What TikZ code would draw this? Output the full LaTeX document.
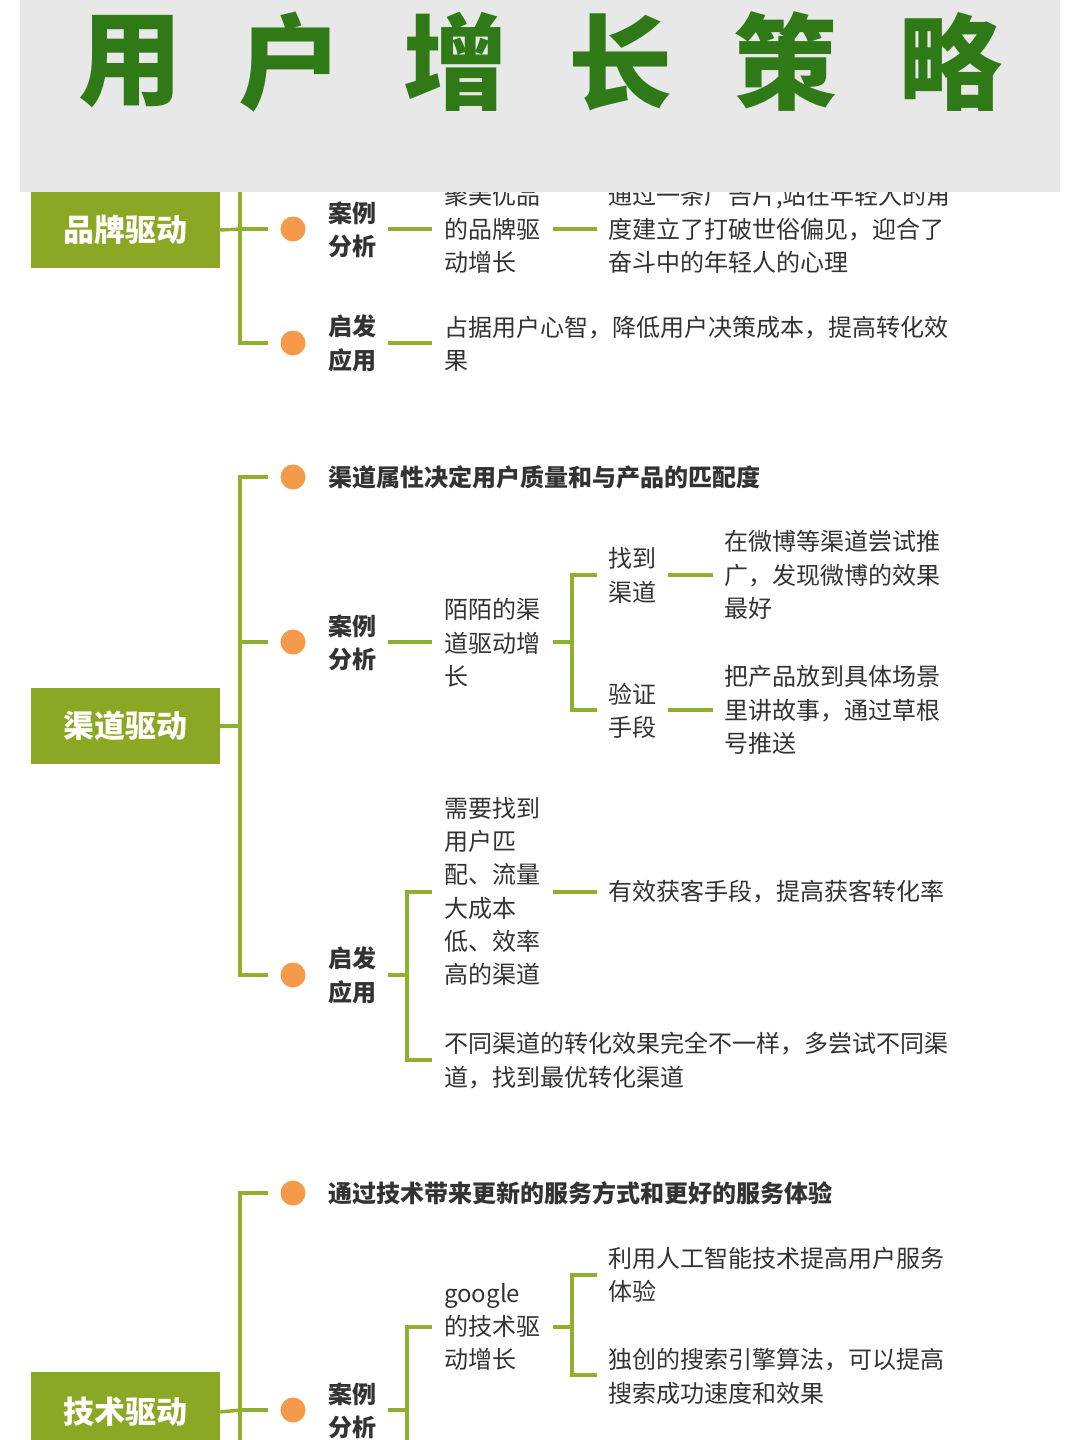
\documentclass[tikz,border=0pt]{standalone}
\usepackage{fontspec}
\setmainfont{Noto Sans CJK SC}
\begin{document}
\begin{tikzpicture}[x=1pt,y=-1pt,
  ln/.style={draw=lgreen,line width=3.4pt},
  dot/.style={circle,fill=dorange,minimum size=25pt,inner sep=0pt},
  box/.style={fill=bgreen,text=white,font=\fontsize{31}{31}\selectfont\bfseries,minimum width=189pt,minimum height=76pt,inner sep=0pt},
  lab/.style={anchor=west,inner sep=0pt,align=left,text=tgray,font=\fontsize{24}{33.3}\selectfont\bfseries},
  txt/.style={anchor=west,inner sep=0pt,align=left,text=tgray,font=\fontsize{24}{33.3}\selectfont},
  ttl/.style={text=tgreen,font=\fontsize{104}{104}\selectfont\bfseries,inner sep=0pt}]
\definecolor{lgreen}{HTML}{8DB02E}
\definecolor{bgreen}{HTML}{8AA823}
\definecolor{dorange}{HTML}{F5994A}
\definecolor{tgray}{HTML}{333333}
\definecolor{tgreen}{HTML}{2F7A17}
\definecolor{hgray}{HTML}{E8E8E8}
\useasboundingbox (0,0) rectangle (1080,1440);
\clip (0,0) rectangle (1080,1440);
\fill[white] (0,0) rectangle (1080,1440);
% ===== section 1
\node[box] (b1) at (125.5,230) {品牌驱动};
\coordinate (v1) at (240,229);
\draw[ln] (b1.east) -- (v1);
\draw[ln] (240,150) -- (240,343) -- (268,343);
\draw[ln] (v1) -- (268,229);
\node[dot] (d11) at (293,229) {};
\node[lab] (l11) at (328,229.5) {案例\\分析};
\node[txt] (t11) at (444,229) {聚美优品\\的品牌驱\\动增长};
\node[txt] (t12) at (608,229) {通过一条广告片,站在年轻人的角\\度建立了打破世俗偏见，迎合了\\奋斗中的年轻人的心理};
\draw[ln] (388,229) -- (432,229);
\draw[ln] (553,229) -- (597,229);
\node[dot] (d12) at (293,343) {};
\node[lab] (l12) at (328,343.5) {启发\\应用};
\node[txt] (t13) at (444,343.5) {占据用户心智，降低用户决策成本，提高转化效\\果};
\draw[ln] (388,343) -- (432,343);
% ===== section 2
\node[box] (b2) at (125.5,726) {渠道驱动};
\draw[ln] (b2.east) -- (240,726);
\draw[ln] (268,477) -- (240,477) -- (240,975) -- (268,975);
\draw[ln] (240,642) -- (268,642);
\node[dot] (d21) at (293,477) {};
\node[lab] (l21) at (328,477) {渠道属性决定用户质量和与产品的匹配度};
\node[dot] (d22) at (293,642) {};
\node[lab] (l22) at (328,642.5) {案例\\分析};
\node[txt] (t21) at (444,643) {陌陌的渠\\道驱动增\\长};
\draw[ln] (388,642) -- (432,642);
\draw[ln] (553,642) -- (572,642);
\draw[ln] (597,575) -- (572,575) -- (572,710) -- (597,710);
\node[txt] (t22) at (608,575.5) {找到\\渠道};
\node[txt] (t23) at (608,710.5) {验证\\手段};
\node[txt] (t24) at (724,575) {在微博等渠道尝试推\\广，发现微博的效果\\最好};
\node[txt] (t25) at (724,710) {把产品放到具体场景\\里讲故事，通过草根\\号推送};
\draw[ln] (668,575) -- (713,575);
\draw[ln] (668,710) -- (713,710);
\node[dot] (d23) at (293,975) {};
\node[lab] (l23) at (328,975.5) {启发\\应用};
\draw[ln] (388,975) -- (407,975);
\draw[ln] (432,892) -- (407,892) -- (407,1060) -- (432,1060);
\node[txt] (t26) at (444,891.5) {需要找到\\用户匹\\配、流量\\大成本\\低、效率\\高的渠道};
\draw[ln] (553,892) -- (597,892);
\node[txt] (t27) at (608,892) {有效获客手段，提高获客转化率};
\node[txt] (t28) at (444,1060.5) {不同渠道的转化效果完全不一样，多尝试不同渠\\道，找到最优转化渠道};
% ===== section 3
\node[box,minimum height=80pt] (b3) at (125.5,1412) {技术驱动};
\draw[ln] (b3.east) -- (240,1410);
\draw[ln] (268,1193) -- (240,1193) -- (240,1460);
\draw[ln] (240,1410) -- (268,1410);
\node[dot] (d31) at (293,1193) {};
\node[lab] (l31) at (328,1193) {通过技术带来更新的服务方式和更好的服务体验};
\node[dot] (d32) at (293,1410) {};
\node[lab] (l32) at (328,1410.5) {案例\\分析};
\draw[ln] (388,1410) -- (407,1410);
\draw[ln] (432,1327) -- (407,1327) -- (407,1460);
\node[txt] (t31) at (444,1327) {google\\的技术驱\\动增长};
\draw[ln] (553,1327) -- (572,1327);
\draw[ln] (597,1275) -- (572,1275) -- (572,1375) -- (597,1375);
\node[txt] (t32) at (608,1274.5) {利用人工智能技术提高用户服务\\体验};
\node[txt] (t33) at (608,1376.5) {独创的搜索引擎算法，可以提高\\搜索成功速度和效果};
% ===== header
\fill[hgray] (20,0) rectangle (1060,192);
\foreach \c/\x [count=\i] in {用/130,户/290,增/455,长/620,策/785,略/950}
  \node[ttl] (h\i) at (\x,62) {\c};
\end{tikzpicture}
\end{document}
